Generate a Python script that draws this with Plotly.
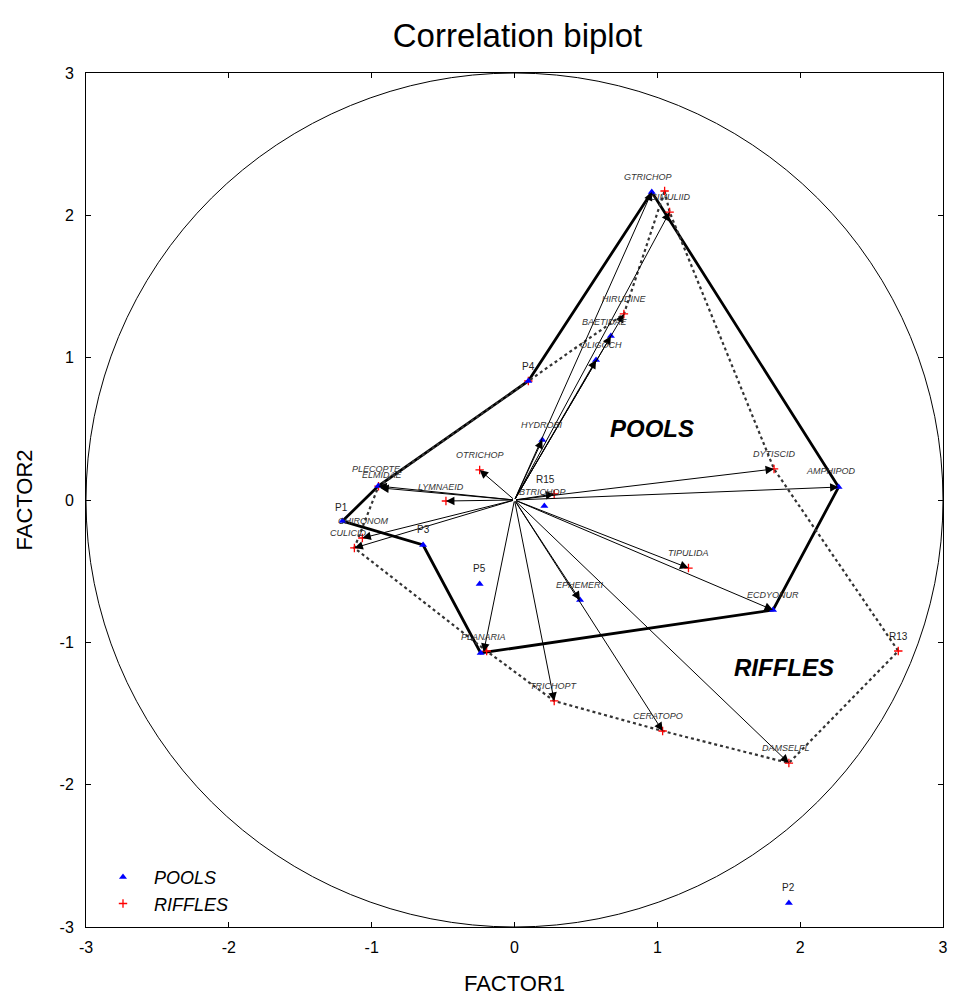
import plotly.graph_objects as go

# ---------------- data ----------------
pool_labels = ["P1", "P2", "P3", "P4", "P5", "", "", "", "", "", "", "", "", "", ""]
pool_x = [-1.204, 1.921, -0.640, 0.097, -0.244, 0.961, 0.675, 0.571, 0.195, 0.209, 2.269, 1.810, 0.459, -0.237, -0.954]
pool_y = [-0.148, -2.831, -0.316, 0.836, -0.590, 2.164, 1.152, 0.984, 0.422, -0.042, 0.091, -0.773, -0.703, -1.075, 0.098]

riffle_labels = ["", "", "", "R15", "", "", "", "", "", "", "R13", "", "", "", "", "", ""]
riffle_x = [1.051, 1.086, 0.766, 0.278, -0.244, -0.480, -1.065, -1.121, 1.817, 1.218, 2.687, 1.921, 1.037, 0.278, -0.195, -0.952, 0.097]
riffle_y = [2.171, 2.023, 1.307, 0.042, 0.211, -0.007, -0.267, -0.337, 0.218, -0.478, -1.061, -1.848, -1.623, -1.412, -1.061, 0.097, 0.836]

species_names = ["GTRICHOP", "SIMULIID", "HIRUDINE", "BAETIDAE", "OLIGOCH", "HYDROBI", "BTRICHOP",
                 "OTRICHOP", "LYMNAEID", "PLECOPTE", "ELMIDAE", "CHIRONOM", "CULICID", "DYTISCID",
                 "AMPHIPOD", "TIPULIDA", "ECDYONUR", "EPHEMERI", "PLANARIA", "TRICHOPT", "CERATOPO", "DAMSELFL"]
species_x = [0.961, 1.086, 0.766, 0.675, 0.571, 0.195, 0.278, -0.244, -0.480, -0.954, -0.940, -1.065, -1.121,
             1.817, 2.269, 1.218, 1.810, 0.459, -0.216, 0.278, 1.037, 1.921]
species_y = [2.164, 2.023, 1.307, 1.152, 0.984, 0.422, 0.042, 0.211, -0.007, 0.098, 0.085, -0.267, -0.337,
             0.218, 0.091, -0.478, -0.773, -0.703, -1.068, -1.412, -1.623, -1.848]

pool_hull = [0, 14, 3, 5, 10, 11, 13, 2, 0]
riffle_hull = [0, 1, 8, 10, 11, 12, 13, 14, 7, 15, 16, 2, 0]

x_ticks = [-3, -2, -1, 0, 1, 2, 3]
y_ticks = [-3, -2, -1, 0, 1, 2, 3]

# label offsets (pixels) for labels
label_shift = {"BTRICHOP": (-12, 2), "PLECOPTE": (-2, 17), "ELMIDAE": (2, 13),
               "CHIRONOM": (1, 17), "CULICID": (-6, 15), "AMPHIPOD": (-8, 16), "LYMNAEID": (-5, 14),
               "GTRICHOP": (-4, 15), "SIMULIID": (1, 15), "CERATOPO": (-5, 15), "DAMSELFL": (-3, 15),
               "OLIGOCH": (5, 15), "BAETIDAE": (-6, 14), "R15": (-9, 15), "P1": (-1, 14), "R13": (0, 15)}

FONT = "Arial, Liberation Sans, sans-serif"
fig = go.Figure()

# circle
fig.add_shape(type="circle", x0=-3, y0=-3, x1=3, y1=3, xref="x", yref="y",
              line=dict(color="black", width=1), layer="below")

# hulls
fig.add_trace(go.Scatter(x=[pool_x[i] for i in pool_hull], y=[pool_y[i] for i in pool_hull],
                         mode="lines", line=dict(color="black", width=2.8), showlegend=False, hoverinfo="skip"))
fig.add_trace(go.Scatter(x=[riffle_x[i] for i in riffle_hull], y=[riffle_y[i] for i in riffle_hull],
                         mode="lines", line=dict(color="#333333", width=2.2, dash="dot"), showlegend=False, hoverinfo="skip"))

# species arrows
annotations = []
for n, sx, sy in zip(species_names, species_x, species_y):
    annotations.append(dict(x=sx, y=sy, ax=0, ay=0, xref="x", yref="y", axref="x", ayref="y",
                            text="", showarrow=True, arrowhead=2, arrowsize=1.7, arrowwidth=1,
                            arrowcolor="black", standoff=0))
    dx, dy = label_shift.get(n, (0, 15))
    annotations.append(dict(x=sx, y=sy, xref="x", yref="y", text=n, showarrow=False,
                            xshift=dx, yshift=dy,
                            font=dict(family=FONT, size=9, color="#333333", style="italic")))

# points (riffles first so pools sit on top)
fig.add_trace(go.Scatter(x=riffle_x, y=riffle_y, mode="markers", name="RIFFLES",
                         marker=dict(symbol="cross-thin", size=6, color="red", line=dict(color="red", width=1.3))))
fig.add_trace(go.Scatter(x=pool_x, y=pool_y, mode="markers", name="POOLS",
                         marker=dict(symbol="triangle-up", size=7, color="blue")))

for lab, px, py in zip(pool_labels + riffle_labels, pool_x + riffle_x, pool_y + riffle_y):
    if lab:
        dx, dy = label_shift.get(lab, (0, 15))
        annotations.append(dict(x=px, y=py, xref="x", yref="y", text=lab, showarrow=False,
                                xshift=dx, yshift=dy,
                                font=dict(family=FONT, size=10, color="#222222")))

# group labels
annotations.append(dict(x=0.96, y=0.5, xref="x", yref="y", text="<b><i>POOLS</i></b>", showarrow=False,
                        font=dict(family=FONT, size=24, color="black")))
annotations.append(dict(x=1.89, y=-1.18, xref="x", yref="y", text="<b><i>RIFFLES</i></b>", showarrow=False,
                        font=dict(family=FONT, size=24, color="black")))

fig.update_layout(
    width=953, height=999, margin=dict(l=86, r=5, t=73, b=72),
    paper_bgcolor="white", plot_bgcolor="white",
    title=dict(text="Correlation biplot", x=0.543, xanchor="center", y=0.965, yanchor="middle",
               font=dict(family=FONT, size=33, color="black")),
    annotations=annotations,
    showlegend=True,
    legend=dict(x=0.007, y=0.006, xanchor="left", yanchor="bottom", bgcolor="rgba(0,0,0,0)",
                traceorder="reversed", itemwidth=52, tracegroupgap=0,
                font=dict(family=FONT, size=18, color="black", style="italic")),
    font=dict(family=FONT, color="black"),
)
fig.update_xaxes(range=[-3, 3], tickvals=x_ticks, ticktext=[str(v) for v in x_ticks],
                 showgrid=False, zeroline=False, showline=True, linecolor="black", linewidth=1, mirror="ticks",
                 ticks="inside", ticklen=5, tickcolor="black", tickfont=dict(size=16),
                 ticklabelstandoff=6,
                 title=dict(text="FACTOR1", font=dict(size=22), standoff=20))
fig.update_yaxes(range=[-3, 3], tickvals=y_ticks, ticktext=[str(v) for v in y_ticks],
                 showgrid=False, zeroline=False, showline=True, linecolor="black", linewidth=1, mirror="ticks",
                 ticks="inside", ticklen=5, tickcolor="black", tickfont=dict(size=16),
                 ticklabelstandoff=8,
                 title=dict(text="FACTOR2", font=dict(size=22), standoff=20))

fig.write_html("out.html")
